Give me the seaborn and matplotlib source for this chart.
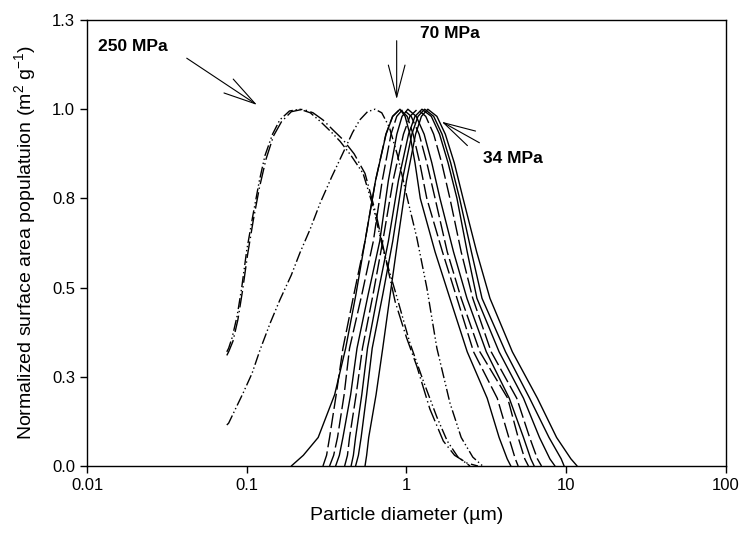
import matplotlib
matplotlib.use("Agg")
import matplotlib.pyplot as plt
import seaborn as sns
import pandas as pd

# y levels shared by the 70 / 34 MPa family (left foot -> peak -> right foot)
levels = [0, 0.03, 0.08, 0.2, 0.33, 0.48, 0.63, 0.8, 0.93, 0.98, 1.0,
          0.98, 0.93, 0.85, 0.75, 0.6, 0.47, 0.32, 0.19, 0.08, 0.02, 0]

# diameters (um) at which each curve passes those levels
d_c1 = [0.19, 0.226, 0.28, 0.355, 0.416, 0.482, 0.55, 0.64, 0.745, 0.82, 0.91,
        0.98, 1.05, 1.13, 1.22, 1.51, 1.87, 2.4, 3.2, 3.8, 4.27, 4.5]
d_c2 = [0.30, 0.316, 0.33, 0.363, 0.40, 0.468, 0.55, 0.64, 0.743, 0.818, 0.91,
        1.01, 1.10, 1.21, 1.34, 1.68, 2.07, 2.63, 3.7, 4.37, 4.8, 5.0]
d_c3 = [0.33, 0.35, 0.37, 0.407, 0.44, 0.525, 0.62, 0.705, 0.80, 0.869, 0.95,
        1.07, 1.20, 1.34, 1.51, 1.8, 2.2, 2.88, 4.3, 5.0, 5.5, 5.8]
d_c4 = [0.36, 0.38, 0.40, 0.447, 0.49, 0.575, 0.68, 0.77, 0.87, 0.938, 1.02,
        1.15, 1.29, 1.44, 1.62, 1.97, 2.39, 3.16, 4.4, 5.4, 6.0, 6.3]
d_c5 = [0.41, 0.427, 0.44, 0.484, 0.53, 0.617, 0.71, 0.824, 0.957, 1.05, 1.17,
        1.32, 1.48, 1.66, 1.87, 2.2, 2.6, 3.39, 4.9, 5.9, 6.6, 7.0]
d_c6 = [0.45, 0.465, 0.48, 0.525, 0.57, 0.66, 0.77, 0.89, 1.03, 1.13, 1.25,
        1.43, 1.61, 1.82, 2.07, 2.4, 2.76, 3.8, 5.4, 6.8, 7.9, 8.5]
d_c7 = [0.48, 0.50, 0.52, 0.563, 0.61, 0.71, 0.82, 0.94, 1.08, 1.18, 1.3,
        1.48, 1.67, 1.89, 2.15, 2.55, 2.97, 4.17, 5.9, 7.8, 9.3, 9.7]
d_c8 = [0.55, 0.563, 0.58, 0.645, 0.71, 0.79, 0.88, 1.0, 1.14, 1.24, 1.36,
        1.55, 1.75, 1.99, 2.26, 2.75, 3.33, 4.6, 6.6, 8.7, 10.7, 11.7]

# 250 MPa pair, cut at the lower size limit
d_a1 = [0.075, 0.077, 0.081, 0.087, 0.093, 0.1, 0.109, 0.12, 0.13, 0.145, 0.161,
        0.185, 0.215, 0.25, 0.29, 0.34, 0.384, 0.45, 0.535, 0.62, 0.72, 0.87,
        1.05, 1.27, 1.55, 1.8, 2.1, 2.5]
y_a1 = [0.32, 0.33, 0.36, 0.42, 0.50, 0.605, 0.70, 0.80, 0.87, 0.93, 0.97,
        0.995, 1.0, 0.99, 0.965, 0.935, 0.91, 0.87, 0.82, 0.725, 0.60, 0.474,
        0.345, 0.24, 0.137, 0.07, 0.025, 0.0]
d_a2 = [0.075, 0.077, 0.082, 0.088, 0.094, 0.101, 0.11, 0.12, 0.132, 0.147, 0.165,
        0.19, 0.225, 0.26, 0.3, 0.35, 0.4, 0.47, 0.55, 0.65, 0.75, 0.85,
        1.0, 1.16, 1.4, 1.7, 2.0, 2.4, 2.8]
y_a2 = [0.31, 0.32, 0.35, 0.41, 0.49, 0.59, 0.69, 0.78, 0.86, 0.925, 0.965,
        0.993, 1.0, 0.99, 0.97, 0.94, 0.915, 0.875, 0.82, 0.70, 0.57, 0.46,
        0.36, 0.28, 0.16, 0.07, 0.03, 0.008, 0.0]
d_b = [0.075, 0.077, 0.085, 0.095, 0.108, 0.121, 0.14, 0.161, 0.19, 0.215, 0.25,
       0.288, 0.34, 0.40, 0.46, 0.51, 0.57, 0.635, 0.7, 0.78, 0.88, 1.0, 1.16,
       1.34, 1.55, 1.87, 2.2, 2.6, 3.0]
y_b = [0.115, 0.12, 0.16, 0.205, 0.26, 0.325, 0.40, 0.465, 0.535, 0.597, 0.665,
       0.737, 0.81, 0.877, 0.935, 0.97, 0.993, 1.0, 0.99, 0.95, 0.87, 0.76, 0.64,
       0.50, 0.33, 0.177, 0.08, 0.025, 0.0]

curves = {
    "c1": (d_c1, levels, ""),
    "c2": (d_c2, levels, (11, 3)),
    "c3": (d_c3, levels, (11, 3)),
    "c4": (d_c4, levels, ""),
    "c5": (d_c5, levels, (11, 3)),
    "c6": (d_c6, levels, ""),
    "c7": (d_c7, levels, ""),
    "c8": (d_c8, levels, ""),
    "a1": (d_a1, y_a1, (8, 2, 1, 2, 1, 2)),
    "a2": (d_a2, y_a2, (12, 2.5, 1, 2.5)),
    "b": (d_b, y_b, (8, 2, 1, 2, 1, 2)),
}

rows = []
for name, (xs, ys, _) in curves.items():
    for x, y in zip(xs, ys):
        rows.append({"curve": name, "diameter": x, "value": y})
df = pd.DataFrame(rows)

sns.set_style("ticks")
plt.rcParams["font.family"] = ["Liberation Sans", "DejaVu Sans"]
plt.rcParams["mathtext.fontset"] = "custom"
plt.rcParams["mathtext.rm"] = "Liberation Sans"
plt.rcParams["mathtext.it"] = "Liberation Sans"
plt.rcParams["text.color"] = "black"
plt.rcParams["axes.labelcolor"] = "black"
plt.rcParams["xtick.color"] = "black"
plt.rcParams["ytick.color"] = "black"

fig = plt.figure(figsize=(7.43, 5.41), dpi=100)
ax = fig.add_axes([0.1171, 0.1386, 0.8600, 0.8244])

sns.lineplot(data=df, x="diameter", y="value", hue="curve", style="curve",
             palette={k: "black" for k in curves},
             dashes={k: v[2] for k, v in curves.items()},
             sort=False, estimator=None, legend=False, linewidth=1.0, ax=ax)

ax.set_xscale("log")
ax.set_xlim(0.01, 100)
ax.set_ylim(0, 1.25)
ax.set_xticks([0.01, 0.1, 1, 10, 100])
ax.set_xticklabels(["0.01", "0.1", "1", "10", "100"])
ax.minorticks_off()
ax.set_yticks([0, 0.25, 0.5, 0.75, 1.0, 1.25])
ax.set_yticklabels(["0.0", "0.3", "0.5", "0.8", "1.0", "1.3"])
ax.tick_params(axis="both", labelsize=12, length=5, width=1, direction="out",
               colors="black")
for s in ax.spines.values():
    s.set_linewidth(1.0)
    s.set_color("black")

ax.set_xlabel("Particle diameter (µm)", fontsize=14, labelpad=10)
ax.set_ylabel("Normalized surface area populatuion (m$^{2}$ g$^{-1}$)", fontsize=14, labelpad=10)

arrow = dict(arrowstyle="->, head_length=2.3, head_width=0.6", color="black",
             lw=0.8, shrinkA=0, shrinkB=0, mutation_scale=10)
ax.annotate("", xy=(0.116, 1.012), xytext=(0.0421, 1.143), arrowprops=arrow)
ax.annotate("", xy=(0.868, 1.028), xytext=(0.868, 1.192), arrowprops=arrow)
ax.annotate("", xy=(1.66, 0.965), xytext=(2.86, 0.906), arrowprops=arrow)

ax.text(0.0117, 1.176, "250 MPa", fontsize=12.5, fontweight="bold", ha="left", va="center")
ax.text(1.215, 1.2136, "70 MPa", fontsize=12.5, fontweight="bold", ha="left", va="center")
ax.text(3.01, 0.863, "34 MPa", fontsize=12.5, fontweight="bold", ha="left", va="center")

fig.savefig("out.png", dpi=100)
